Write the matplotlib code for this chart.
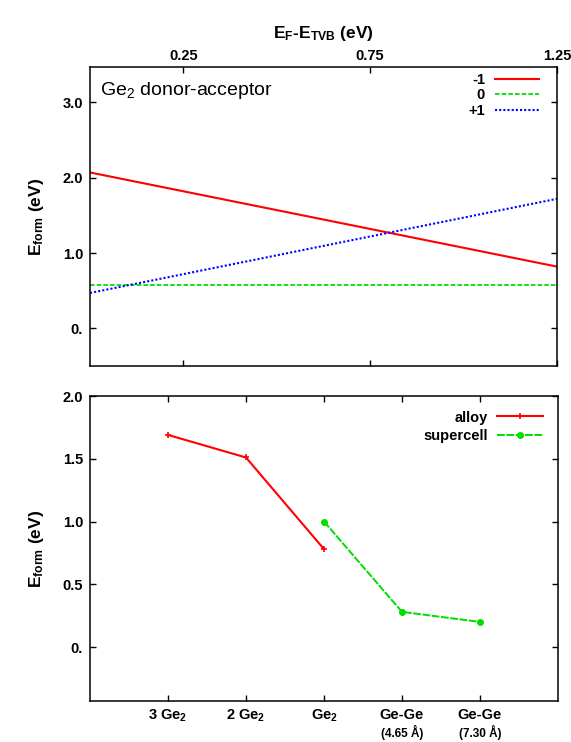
"""Ge2 donor-acceptor formation energy figure (two panels)."""

import matplotlib.pyplot as plt
import numpy as np
from matplotlib.ticker import FuncFormatter
from matplotlib.transforms import blended_transform_factory

plt.rcParams["font.family"] = ["Liberation Sans", "DejaVu Sans"]
plt.rcParams["mathtext.fontset"] = "custom"
plt.rcParams["mathtext.rm"] = "Liberation Sans"
plt.rcParams["mathtext.it"] = "Liberation Sans"
plt.rcParams["mathtext.bf"] = "Liberation Sans:bold"

# Top panel: formation energy vs Fermi level, one line per charge state.
fermi = [0.0, 1.25]
charge_labels = ["-1", "0", "+1"]
eform_m1 = [2.07, 0.82]
eform_0 = [0.58, 0.58]
eform_p1 = [0.47, 1.72]

# Bottom panel: formation energy per configuration.
configs = ["3 Ge$_\\mathbf{2}$", "2 Ge$_\\mathbf{2}$", "Ge$_\\mathbf{2}$", "Ge-Ge", "Ge-Ge"]
config_notes = ["", "", "", "(4.65 Å)", "(7.30 Å)"]
alloy_idx = [0, 1, 2]
alloy_vals = [1.69, 1.51, 0.78]
super_idx = [2, 3, 4]
super_vals = [1.00, 0.28, 0.20]

RED, GREEN, BLUE = "#ff0000", "#00dd00", "#0000ff"


def zero_fmt(v, p):
    return "0." if abs(v) < 1e-9 else f"{v:.1f}"


def style_axes(ax):
    for sp in ax.spines.values():
        sp.set_linewidth(1.1)
    ax.tick_params(direction="in", length=4, width=1.0, labelsize=10.5, pad=5)
    for lab in ax.get_xticklabels() + ax.get_yticklabels():
        lab.set_fontweight("bold")


def main():
    fig = plt.figure(figsize=(5.71, 7.42), dpi=100)

    # ---- top panel
    ax1 = fig.add_axes([0.1576, 0.5067, 0.8178, 0.4030])
    ax1.plot(fermi, eform_m1, color=RED, lw=1.5, ls="-", label=charge_labels[0])
    ax1.plot(fermi, eform_0, color=GREEN, lw=1.3, ls=(0, (2.5, 1.2)), label=charge_labels[1])
    ax1.plot(fermi, eform_p1, color=BLUE, lw=1.5, ls=(0, (1, 1)), label=charge_labels[2])
    ax1.set_xlim(0, 1.25)
    ax1.set_ylim(-0.5, 3.47)
    ax1.xaxis.tick_top()
    ax1.xaxis.set_label_position("top")
    ax1.set_xticks([0.25, 0.75, 1.25])
    ax1.set_xticklabels(["0.25", "0.75", "1.25"])
    ax1.set_yticks([0, 1, 2, 3])
    ax1.yaxis.set_major_formatter(FuncFormatter(zero_fmt))
    ax1.set_xlabel("E$_\\mathbf{F}$-E$_\\mathbf{TVB}$ (eV)", fontsize=12.5,
                   fontweight="bold", labelpad=8)
    ax1.set_ylabel("E$_\\mathbf{form}$ (eV)", fontsize=12.5, fontweight="bold", labelpad=12)
    ax1.text(0.021, 0.923, "Ge$_\\mathrm{2}$ donor-acceptor", transform=ax1.transAxes,
             fontsize=14, ha="left", va="center")
    leg = ax1.legend(loc="upper right", bbox_to_anchor=(0.974, 1.0), frameon=False,
                     markerfirst=False, prop={"weight": "bold", "size": 10.5},
                     handlelength=3.0, labelspacing=0.1, borderaxespad=0.2,
                     borderpad=0.2, handletextpad=0.7)
    for t in leg.get_texts():
        t.set_ha("right")
    style_axes(ax1)
    ax1.tick_params(top=True, bottom=True, left=True, right=True, pad=3, axis="x")
    ax1.tick_params(left=True, right=True, axis="y")

    # ---- bottom panel
    ax2 = fig.add_axes([0.1576, 0.0553, 0.8196, 0.4110])
    ax2.plot(alloy_idx, alloy_vals, color=RED, lw=1.5, marker="+", ms=5, mew=1.2,
             label="alloy")
    ax2.plot(super_idx, super_vals, color=GREEN, lw=1.4, ls=(0, (4, 0.8)), marker="o",
             ms=4, label="supercell")
    ax2.set_xlim(-1, 5)
    ax2.set_ylim(-0.43, 2.0)
    ax2.set_xticks(np.arange(len(configs)))
    ax2.set_xticklabels(configs)
    ax2.set_yticks([0, 0.5, 1.0, 1.5, 2.0])
    ax2.yaxis.set_major_formatter(FuncFormatter(zero_fmt))
    ax2.set_ylabel("E$_\\mathbf{form}$ (eV)", fontsize=12.5, fontweight="bold", labelpad=12)
    trans = blended_transform_factory(ax2.transData, ax2.transAxes)
    for i, note in enumerate(config_notes):
        if note:
            ax2.annotate(note, xy=(i, 0), xycoords=trans, xytext=(0, -23),
                         textcoords="offset points", ha="center", va="center",
                         fontsize=8.5, fontweight="bold")
    ax2.legend(loc="upper right", frameon=False, markerfirst=False,
               prop={"weight": "bold", "size": 10.5}, handlelength=3.2,
               labelspacing=0.3, borderaxespad=0.6, handletextpad=0.6)
    style_axes(ax2)
    ax2.tick_params(top=True, bottom=True, left=True, right=True)

    fig.savefig("out.png", dpi=100)
    plt.close(fig)


if __name__ == "__main__":
    main()
